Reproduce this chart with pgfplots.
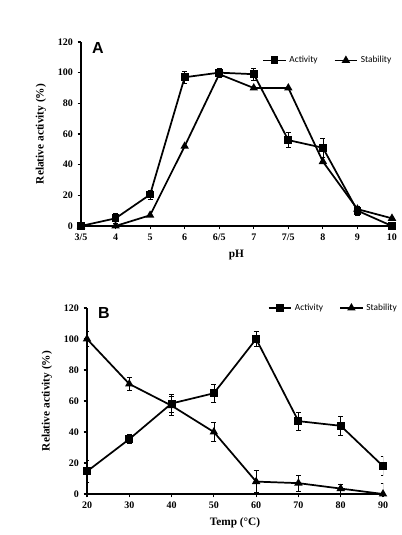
\documentclass[border=0pt]{standalone}
\usepackage{pgfplots}
\pgfplotsset{compat=1.18}
\usepackage{fontspec}
\setmainfont{Liberation Serif}
\newfontfamily\legfont{Carlito}
\newfontfamily\panfont{Liberation Sans}
\begin{document}
\begin{tikzpicture}
\useasboundingbox (0pt,0pt) rectangle (301.5pt,401.25pt);
\pgfplotsset{
  myaxis/.style={
    scale only axis,
    axis lines=left,
    axis line style={-, line width=1.2pt},
    tick align=outside,
    major tick length=2.5pt,
    tick style={line width=0.8pt, black},
    ymin=0, ymax=120, ytick={0,20,...,120},
    tick label style={font=\bfseries\fontsize{7.5}{8}\selectfont},
    /pgf/number format/assume math mode=true,
    label style={font=\bfseries\fontsize{8.5}{9}\selectfont},
    ylabel={Relative activity (\%)},
    ylabel style={yshift=2pt},
    legend columns=2,
    legend style={draw=none, fill=none, font=\legfont\fontsize{7}{7}\selectfont,
      /tikz/every even column/.append style={column sep=10pt}},
    legend cell align=left,
    error bars/y dir=both, error bars/y explicit,
    error bars/error bar style={line width=0.5pt, black},
    error bars/error mark options={rotate=90, mark size=1.8pt, line width=0.5pt},
  },
  act/.style={black, line width=1.3pt, mark=square*, mark size=2.3pt, mark options={solid}},
  sta/.style={black, line width=1.3pt, mark=triangle*, mark size=2.4pt, mark options={solid}},
}
\begin{axis}[myaxis,
  at={(60.75pt,231.75pt)}, anchor=south west,
  width=233.25pt, height=138pt,
  xmin=0, xmax=9, xtick={0,...,9},
  xticklabels={3/5,4,5,6,6/5,7,7/5,8,9,10},
  xlabel={pH},
  legend style={at={(1.02,0.9)}, anchor=east},
]
\addplot+[act] coordinates {
 (0,0) +- (0,0) (1,5) +- (0,3) (2,20.5) +- (0,3) (3,97) +- (0,4) (4,100) +- (0,3)
 (5,99) +- (0,4) (6,56) +- (0,5) (7,51) +- (0,6) (8,10) +- (0,3) (9,0) +- (0,0)};
\addlegendentry{Activity}
\addplot+[sta, error bars/y dir=none] coordinates {
 (0,0) (1,0) (2,7) (3,52) (4,99) (5,90) (6,90) (7,42) (8,11) (9,5)};
\addlegendentry{Stability}
\end{axis}
\node[font=\panfont\bfseries\fontsize{12}{12}\selectfont] at (73.5pt,365.25pt) {A};
\begin{axis}[myaxis,
  at={(65.25pt,30.75pt)}, anchor=south west,
  width=222pt, height=139.5pt,
  xmin=20, xmax=90, xtick={20,30,...,90},
  xlabel={Temp (°C)},
  legend style={at={(1.07,1.0)}, anchor=east},
]
\addplot+[act] coordinates {
 (20,14.6) +- (0,7) (30,35.4) +- (0,3) (40,58.4) +- (0,6) (50,65) +- (0,6)
 (60,100) +- (0,5) (70,47) +- (0,6) (80,44) +- (0,6) (90,18) +- (0,6)};
\addlegendentry{Activity}
\addplot+[sta] coordinates {
 (20,100) +- (0,5) (30,71) +- (0,4) (40,57) +- (0,6) (50,40) +- (0,6)
 (60,8) +- (0,7) (70,7) +- (0,5) (80,3.5) +- (0,3) (90,0) +- (0,7)};
\addlegendentry{Stability}
\end{axis}
\node[font=\panfont\bfseries\fontsize{12}{12}\selectfont] at (78pt,166.5pt) {B};
\end{tikzpicture}
\end{document}
